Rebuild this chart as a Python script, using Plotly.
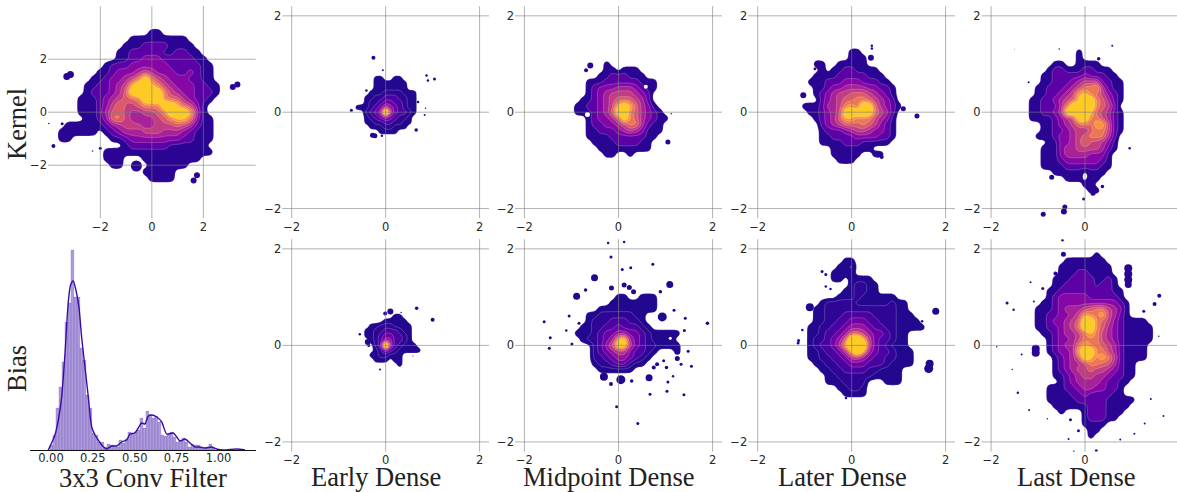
import numpy as np
import plotly.graph_objects as go

W, H = 1177, 492

# ---------- density levels (0 = empty, 1..9 = contour band, letters = sharper peak) ----------
kernel_filter_rows = [
 "0000000000000011",
 "00000000000111111111",
 "000000000011122221111",
 "0000000001122222112211",
 "00000000011223332222211",
 "000000012223333332222211",
 "000000112333454333223211",
 "000001123345797543332211",
 "0000112234589987543332211",
 "0000122234699999754332221",
 "000111234566799976643221",
 "00011123575567779986531",
 "00011124665445567999841",
 "000011237754344567887311",
 "011110123455544555654211",
 "111111012344455544432111",
 "110000001123333333322111",
 "00000000001222222111111",
 "000000011111111111111111",
 "0000000111000111111111",
 "00000000110000111111",
 "000000000000011111",
 "000000000000001111",
]
kernel_early_rows = [
 "00001100110", "00001111111", "00001111111", "0001112222111", "0011223332211",
 "0012234433211", "1112346543211", "002345e643321", "001234543221", "001122332211",
 "00011122111", "000001111",
]
kernel_mid_rows = [
 "0000001", "000000110111", "0000011222111", "000111222222111", "000123334443211",
 "00012345555432", "00112345666542", "011223458986431", "0111234699764321",
 "00012334697643211", "0001223345774211", "0001122234543111", "000111122222211",
 "00001111222211", "00000111111111", "00000011001",
]
kernel_later_rows = [
 "0000000011", "00000000111", "00110011111", "0001011221111", "00111122222111",
 "011122233322211", "0011233444433221", "0012345566654321", "0002345667765432",
 "11124457869964321", "0112345989997542", "0012346887775431", "0002345666765321",
 "0001222345543321", "0001122223333221", "000111122211111", "000001111111",
 "00000111110011", "000000111",
]
kernel_last_rows = [
 "0000000001", "0000000001", "0000011001111", "000012211122111", "0001122222322211",
 "00011222345552211", "00112223457784211", "00112234588765321", "01122345689976421",
 "0112224799997653", "01122349999865421", "01111234599775421", "00011234567688521",
 "00011223454677521", "0011123345677742", "0000113345755431", "0001113445555421",
 "000111344443331", "000111233333321", "000111122222211", "00000111110111",
 "0000000111011", "000000000011", "0000000000011",
]
bias_early_rows = [
 "000000011", "0000011111", "00112221111", "01122333211", "01123443321",
 "00123553321", "00023f532111", "0001243211111", "001122111", "000111011", "000000001",
]
bias_mid_rows = [
 "000000001100111", "000000011111111", "000001111111111", "0001122222211", "0001222333221",
 "00112233433321", "0111234455443211111", "001223458a54321011", "00002357aa643221111",
 "0000234566433210001", "00002234554321", "0000122344211", "00000111111",
]
bias_later_rows = [
 "000000011", "000000112", "000001111", "000001101111", "0000000012211", "0000000112211",
 "0000001112110111", "000122222111111211", "001122222222222211", "0011222333332222111",
 "00112233444332221111", "011223345554332211111", "011233457765443211",
 "012234579986433211", "012334689996432111", "0112334689854332111", "0112233466543322111",
 "0011223344433321111", "00011223333221111", "00001122222211111", "00001112222000111",
 "00000011221", "00000001111",
]
bias_last_rows = [
 "000000000001", "0000001111111", "00000111111111", "00000111221111", "000011122221121",
 "000011222221221", "0001122222222211", "0001233333222221", "00112333333333321",
 "01112344456775431", "01122334587785421", "01123345699765321111", "011223457997643211111",
 "001123445787543211111", "000123345777543211111", "00012344787765421111",
 "00012334899775421111", "00001234698787521111", "000012344577664211",
 "000012345565543211", "000011234554432211", "00000123444432211", "0001112234433221",
 "0001111223222211", "000111112222211111", "00001111112221111", "0000010001222111",
 "000000000122211", "0000000001111", "000000000011", "00000000001",
]

# left x, top y, cell size of each grid
kernel_filter_grid = (-3.5, 3.0, 0.25)
kernel_early_grid = (-0.6, 0.7, 0.1)
kernel_mid_grid = (-1.0, 1.0, 0.125)
kernel_later_grid = (-1.0, 1.25, 0.125)
kernel_last_grid = (-1.25, 1.25, 0.125)
bias_early_grid = (-0.5, 0.6, 0.1)
bias_mid_grid = (-1.0, 1.0, 0.125)
bias_later_grid = (-1.0, 1.75, 0.125)
bias_last_grid = (-1.125, 1.875, 0.125)

# ---------- small satellite islands: x, y, size ----------
kernel_filter_dots = [(-3.3,1.35,7),(-3.16,1.42,7),(3.14,.95,6),(3.32,1.05,6),(1.62,-2.58,6),(1.75,-2.38,6),
 (-.6,-2.03,11),(-3.48,-.44,3),(-3.82,-1.28,4),(-2,-1.36,3),(-4,-.43,1.5),(-2.3,-1.46,1.5)]
kernel_early_dots = [(-.26,1.13,4),(-.06,.87,2),(-.41,.45,2.5),(-.73,.04,3),(.87,.76,2.5),(.9,.66,2.5),
 (1.04,.69,3),(.69,.21,2.5),(.85,.08,1.5),(.83,-.06,2),(.65,-.37,3.5),(-.28,-.48,5),(-.23,-.49,5),(-.08,-.49,2.5)]
kernel_mid_dots = [(-.6,.97,6),(-.69,.87,4),(1.05,-.62,5),(1.12,-.03,1.5)]
kernel_mid_holes = [(.58,.53,4),(-.66,-.05,5)]
kernel_later_dots = [(.43,1.38,2.5),(.43,1.32,2.5),(.41,1.13,6),(-.72,1.0,7),(-.78,.9,3),(-1.03,.35,6),(1.39,-.08,5),(.64,-.93,4),(1.1,.07,5)]
kernel_last_dots = [(-.71,-1.35,5),(.37,-1.54,3.5),(-.03,-1.8,3),(-.89,-2.12,5),(-.45,-2.06,6),(-.43,-1.97,5),(.29,1.11,3.5),
 (.58,1.38,2),(-.55,1.31,1.5),(-1.2,.62,2),(.95,-.75,2.5),(-.95,-.52,5),(-1.5,1.31,.8),(.17,-1.68,5),(.17,-1.6,6)]
bias_early_dots = [(.1,.7,6),(-.01,.66,4),(.66,.77,3.5),(1,.53,4),(-.38,.07,6),(-.36,0,3),(-.55,.23,2.5),(.33,.68,1.5),(-.12,-.5,2),(.58,-.22,1)]
bias_mid_dots = [(-.22,2.12,2.5),(.12,2.14,2.5),(-.16,1.83,3),(.08,1.57,3),(.26,1.61,3),(.73,1.68,3),(-.51,1.4,7),(-.7,1.15,3.5),
 (-.15,1.19,5),(1.09,1.26,7),(-.89,1.02,7),(.12,1.25,5),(.23,1.2,5),(.32,1.11,5),(.89,1.11,3.5),(1.18,.73,3),(1.42,.56,3),(.93,.59,9),
 (1.89,.46,3.5),(-1.58,.49,3),(-1.05,.61,3),(-.84,.46,3),(-1.11,.31,2.5),(-1.45,.16,3),(-1.47,-.06,3),(-.99,.03,3),(-.82,.25,7),(-.78,.12,4),
 (1.4,.31,3),(1.48,-.12,3),(1.55,-.43,3),(1.33,-.39,3),(1.25,-.13,6),(1.25,-.27,5),(.96,-.32,3),(.75,-.46,4),(.82,-.39,4),(1.02,-.46,3.5),
 (1.16,-.64,2.5),(.65,-.67,7),(1.05,-.76,3),(1.03,-.95,3),(.67,-1.01,3),(1.39,-1.02,3),(-.04,-1.27,3),(.41,-1.62,3),(-.31,-.65,8),(-.16,-.8,4),(.05,-.71,9),(.28,-.74,3.5)]
bias_mid_holes = [(1.1,.15,3)]
bias_later_dots = [(-.55,1.47,3),(-.63,1.53,3),(-.45,1.17,2.5),(-.55,1.22,2.5),(-.89,.79,8),(1.79,.71,7),(1.5,.5,2.5),(-1.05,.32,2.5),(-1.14,.05,3),(-1.13,.1,3),
 (1.64,-.48,9),(1.66,-.38,8),(-.12,-1.09,2.5)]
bias_last_dots = [(-.48,2.18,2.5),(-.46,1.89,5),(-.63,1.49,4),(-1.16,1.31,2),(-.9,1.18,3),(-1.66,.88,3),(-1.52,.74,2.5),(-1.09,.91,2),(-1.88,-.03,1.5),
 (-1.35,-.19,2),(-1.05,-.07,8),(-1.05,-.15,8),(-1.55,-.5,1.5),(-1.43,-.98,2.5),(-1.19,-1.34,2),(-.8,-1.52,1.5),(-.31,-1.54,3),(-.14,-1.77,3),(-.35,-1.94,2),
 (.24,-2.18,3),(-.24,-2.2,2),(.75,-1.95,2),(1.05,-1.83,2),(1.27,-1.62,2),(1.67,-1.46,2),(1.4,-1.11,2),(1.57,.19,1.5),(1.25,.71,3),(1.48,.86,4),(1.58,1.03,4),
 (.92,1.6,8),(.92,1.48,8),(.92,1.36,8),(.92,1.26,7)]

# ---------- histogram ----------
bin_start = -0.006
bin_width = 0.0179
bar_heights = [5,15,42,63,88,128,147,200,153,153,102,90,55,42,17,15,8,8,3,6,5,5,3,10,7,11,18,17,18,20,32,22,39,35,32,34,28,15,14,16,18,13,8,10,12,8,3,6,5,5,2,1,2,6,2]
kde_x = [-.016,.004,.024,.044,.064,.084,.103,.117,.133,.149,.167,.183,.203,.223,.243,.263,.282,.303,.332,.362,.392,.422,.452,.472,.501,.521,.541,.561,.581,.601,.631,.661,.691,.73,.751,.77,.8,.83,.86,.89,.919,.959,.989,1.029,1.109,1.158]
kde_y = [0,7,15,30,53,97,147,165,169,160,143,113,83,53,23,15,10,5,1,4,4,8,10,16,17,22,27,26,34,35,33,28,16,17,13,9,11,7,3,3,2,3,1,0,1,0]

xticks_hist = [0, .25, .5, .75, 1]
xticklabels_hist = ["0.00", "0.25", "0.50", "0.75", "1.00"]
grid_ticks = [-2, 0, 2]
col_titles = ["3x3 Conv Filter", "Early Dense", "Midpoint Dense", "Later Dense", "Last Dense"]
row_titles = ["Kernel", "Bias"]

warm = ["#2a0593", "#5c01a6", "#8606a6", "#a72197", "#c23c81", "#da5a6a", "#ec7853", "#f89540", "#fdca26"]
deep = ["#22078f", "#2f0596", "#4a03a2", "#6f00a8", "#9412a1", "#b93289", "#db5c68", "#f68f44", "#fdca26"]

col_px = [(48.0, 255.7), (282.3, 489.0), (515.0, 722.0), (748.3, 955.0), (981.7, 1177.0)]
row_px = [(6.2, 218.2), (239.2, 451.6)]
LINE = "rgba(125,125,125,0.6)"
TICK = dict(family="DejaVu Sans", size=11.5, color="#262626")
SERIF = dict(family="Liberation Serif", size=26.5, color="#222222")

fig = go.Figure()
layout = {}
shapes = []


def add_axes(n, col, row, xr, yr, xtick, ytick):
    x0, x1 = col_px[col]
    y0, y1 = row_px[row]
    s = "" if n == 1 else str(n)
    layout["xaxis" + s] = dict(domain=[x0 / W, x1 / W], range=xr, anchor="y" + s, tickvals=xtick,
                               showgrid=False, zeroline=False, showline=False, ticks="", tickfont=TICK)
    layout["yaxis" + s] = dict(domain=[1 - y1 / H, 1 - y0 / H], range=yr, anchor="x" + s, tickvals=ytick,
                               showgrid=False, zeroline=False, showline=False, ticks="", tickfont=TICK)
    for t in xtick:
        if xr[0] < t < xr[1]:
            shapes.append(dict(type="line", layer="above", xref="x" + s, yref=f"y{s} domain", x0=t, x1=t, y0=0, y1=1,
                               line=dict(color=LINE, width=1)))
    for t in ytick:
        shapes.append(dict(type="line", layer="above", xref=f"x{s} domain", yref="y" + s, x0=0, x1=1, y0=t, y1=t,
                           line=dict(color=LINE, width=1)))


def kde_smooth(rows, sub=4, sigma=0.45):
    """Same role as the kde step of a density plot: soften the hand-read level grid."""
    width = max(len(r) for r in rows) + 4
    g = np.zeros((len(rows) + 4, width))
    for j, r in enumerate(rows):
        for i, c in enumerate(r):
            v = int(c, 36)
            # the top bands shrink under smoothing, so their plateaus are lifted a little
            g[j + 2, i + 2] = {8: 8.8, 9: 11.5}.get(v, v)
    g = np.kron(g, np.ones((sub, sub)))
    t = np.arange(-3 * sub, 3 * sub + 1) / sub
    k = np.exp(-t * t / (2 * sigma * sigma))
    k /= k.sum()
    g = np.apply_along_axis(lambda a: np.convolve(a, k, mode="same"), 0, g)
    g = np.apply_along_axis(lambda a: np.convolve(a, k, mode="same"), 1, g)
    return g


def add_density(n, rows, grid, palette, dots, holes=()):
    left, top, cell = grid
    s = "" if n == 1 else str(n)
    z = kde_smooth(rows)
    sub = 4
    xs = [left + ((i + .5) / sub - 2.5) * cell for i in range(z.shape[1])]
    ys = [top - ((j + .5) / sub - 2.5) * cell for j in range(z.shape[0])]
    stops = [[0, "rgba(255,255,255,0)"]] + [[(k + 1) / 9, c] for k, c in enumerate(palette)]
    fig.add_trace(go.Contour(x=xs, y=ys, z=z.tolist(), xaxis="x" + s, yaxis="y" + s, colorscale=stops, showscale=False,
                             autocontour=False, contours=dict(start=.42, end=8.42, size=1, coloring="fill"),
                             line=dict(color="rgba(255,235,245,0.38)", width=.6, smoothing=1), hoverinfo="skip"))
    fig.add_trace(go.Scatter(x=[d[0] for d in dots], y=[d[1] for d in dots], mode="markers", xaxis="x" + s, yaxis="y" + s,
                             marker=dict(size=[d[2] for d in dots], color=palette[0], opacity=1, line=dict(width=0)),
                             hoverinfo="skip", showlegend=False))
    if holes:
        fig.add_trace(go.Scatter(x=[d[0] for d in holes], y=[d[1] for d in holes], mode="markers", xaxis="x" + s, yaxis="y" + s,
                                 marker=dict(size=[d[2] for d in holes], color="white", opacity=1, line=dict(width=0)),
                                 hoverinfo="skip", showlegend=False))


R = [-2.2, 2.2]
Rlast = [-2.2, 1.958]
add_axes(1, 0, 0, [-4.03, 4.03], [-4, 4], grid_ticks, grid_ticks)
add_axes(2, 1, 0, R, R, grid_ticks, grid_ticks)
add_axes(3, 2, 0, R, R, grid_ticks, grid_ticks)
add_axes(4, 3, 0, R, R, grid_ticks, grid_ticks)
add_axes(5, 4, 0, Rlast, R, grid_ticks, grid_ticks)
add_axes(7, 1, 1, R, R, grid_ticks, grid_ticks)
add_axes(8, 2, 1, R, R, grid_ticks, grid_ticks)
add_axes(9, 3, 1, R, R, grid_ticks, grid_ticks)
add_axes(10, 4, 1, Rlast, R, grid_ticks, grid_ticks)

add_density(1, kernel_filter_rows, kernel_filter_grid, warm, kernel_filter_dots)
add_density(2, kernel_early_rows, kernel_early_grid, deep, kernel_early_dots)
add_density(3, kernel_mid_rows, kernel_mid_grid, warm, kernel_mid_dots, kernel_mid_holes)
add_density(4, kernel_later_rows, kernel_later_grid, warm, kernel_later_dots)
add_density(5, kernel_last_rows, kernel_last_grid, warm, kernel_last_dots)
add_density(7, bias_early_rows, bias_early_grid, deep, bias_early_dots)
add_density(8, bias_mid_rows, bias_mid_grid, deep, bias_mid_dots, bias_mid_holes)
add_density(9, bias_later_rows, bias_later_grid, deep, bias_later_dots)
add_density(10, bias_last_rows, bias_last_grid, warm, bias_last_dots)

# histogram panel
layout["xaxis6"] = dict(domain=[30 / W, 255.7 / W], range=[-.125, 1.222], anchor="y6", tickvals=xticks_hist,
                        ticktext=xticklabels_hist, showgrid=False, zeroline=False, showline=True, linecolor="#111111",
                        linewidth=1, ticks="", tickfont=TICK, ticklabelstandoff=-3)
layout["yaxis6"] = dict(domain=[1 - 450 / H, 1 - 239 / H], range=[0, 211], anchor="x6", visible=False)
fig.add_trace(go.Bar(x=[bin_start + (i + .5) * bin_width for i in range(len(bar_heights))], y=bar_heights, width=bin_width,
                     xaxis="x6", yaxis="y6", marker=dict(color="rgba(60,20,165,0.42)", line=dict(color="rgba(60,20,165,0.28)", width=.5)),
                     hoverinfo="skip", showlegend=False))
fig.add_trace(go.Scatter(x=kde_x, y=kde_y, mode="lines", xaxis="x6", yaxis="y6", line=dict(color="#3a0ca3", width=1.4, shape="spline", smoothing=.7),
                         hoverinfo="skip", showlegend=False))

ann = []
for text, cx, cy in zip(col_titles, [142.5, 375.7, 608.7, 842.5, 1075.8], [478, 477, 477, 477, 477]):
    ann.append(dict(text=text, x=cx / W, y=1 - cy / H, xref="paper", yref="paper", xanchor="center", yanchor="middle",
                    showarrow=False, font=SERIF))
for text, cy in zip(row_titles, [124, 369]):
    ann.append(dict(text=text, x=17 / W, y=1 - cy / H, xref="paper", yref="paper", xanchor="center", yanchor="middle",
                    showarrow=False, textangle=-90, font=SERIF))
for cy in (225, 459.7):
    ann.append(dict(text="2", x=1180.5 / W, y=1 - cy / H, xref="paper", yref="paper", xanchor="center", yanchor="middle",
                    showarrow=False, font=TICK))

fig.update_layout(width=W, height=H, margin=dict(l=0, r=0, t=0, b=0), paper_bgcolor="white", plot_bgcolor="rgba(0,0,0,0)",
                  showlegend=False, shapes=shapes, annotations=ann, **layout)
fig.write_html("out.html", config=dict(displayModeBar=False),
               post_script="document.body.style.margin='0';document.body.style.overflow='hidden';")
